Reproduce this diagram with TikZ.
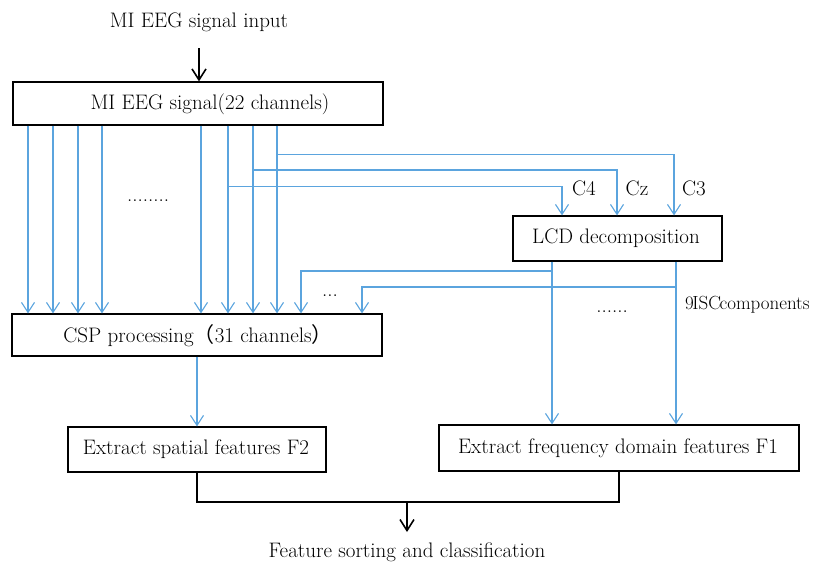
\documentclass[tikz,border=0pt]{standalone}
\usepackage{fontspec}
\newfontfamily\cjk{Noto Sans CJK SC}
\usetikzlibrary{arrows.meta}
\definecolor{blu}{RGB}{91,164,222}
\begin{document}
\begin{tikzpicture}[x=1pt,y=-1pt,
  box/.style={draw=black,line width=1.2pt,rectangle,inner sep=0pt},
  txt/.style={font=\fontsize{21}{25}\selectfont,inner sep=0pt},
  bl/.style={draw=blu,line width=1.1pt},
  barr/.style={bl,-{Straight Barb[length=10pt,width=13pt]}},
  karr/.style={draw=black,line width=1.6pt,-{Straight Barb[length=11pt,width=14pt]}},
  kln/.style={draw=black,line width=1.6pt}]
\useasboundingbox (0,0) rectangle (813,566);
% boxes
\node[box,minimum width=370pt,minimum height=43pt] (sig) at (198,103.5) {};
\node[txt] (sigt) at (210,104) {MI EEG signal(22 channels)};
\node[box,minimum width=370pt,minimum height=42pt] (csp) at (197,335) {};
\node[txt] (cspt) at (198,335.5) {CSP processing{\cjk （}31 channels{\cjk ）}};
\node[box,minimum width=209pt,minimum height=45pt] (lcd) at (617.5,238.5) {};
\node[txt] (lcdt) at (616,238.5) {LCD decomposition};
\node[box,minimum width=258pt,minimum height=45pt] (spa) at (197,449.5) {};
\node[txt] (spat) at (196,449.5) {Extract spatial features F2};
\node[box,minimum width=360pt,minimum height=46pt] (frq) at (619,448) {};
\node[txt] (frqt) at (618,448) {Extract frequency domain features F1};
% free texts
\node[txt] (inp) at (199,22) {MI EEG signal input};
\node[txt] (out) at (407,552) {Feature sorting and classification};
\node[txt] (c4) at (584,188) {C4};
\node[txt] (cz) at (637,188) {Cz};
\node[txt] (c3) at (694,188) {C3};
\node[txt] (d1) at (148,201) {........};
\node[txt] (d2) at (330,296) {...};
\node[txt] (d3) at (612,312) {......};
\node[txt,anchor=west,font=\fontsize{19}{22}\selectfont] (isc) at (685,305) {9\kern-1.5pt ISC\kern-1.5pt components};
% coordinates
\coordinate (inpb) at (199,48);
\coordinate (outt) at (407,502);
\coordinate (j) at (197,502);
\coordinate (k) at (619,502);
% black connectors
\draw[karr] (inpb) -- (sig.north -| inpb);
\draw[kln] (spa.south) -- (j) -- (k) -- (k |- frq.south);
\draw[karr] (outt) -- (407,532);
% blue direct lines
\foreach \x in {28,53,78,102,201,228,253,277}{
  \draw[barr] (\x,0 |- sig.south) -- (\x,0 |- csp.north);
}
% branches to LCD
\draw[barr] (277,154.7) -- (674,154.7) -- (674,0 |- lcd.north);
\draw[barr] (253,170) -- (617,170) -- (617,0 |- lcd.north);
\draw[barr] (228,186.5) -- (562,186.5) -- (562,0 |- lcd.north);
% LCD outputs
\draw[barr] (552,0 |- lcd.south) -- (552,0 |- frq.north);
\draw[barr] (676,0 |- lcd.south) -- (676,0 |- frq.north);
\draw[barr] (552,271) -- (301,271) -- (301,0 |- csp.north);
\draw[barr] (676,287) -- (362,287) -- (362,0 |- csp.north);
% CSP to spatial
\draw[barr] (csp.south) -- (spa.north);
\end{tikzpicture}
\end{document}
